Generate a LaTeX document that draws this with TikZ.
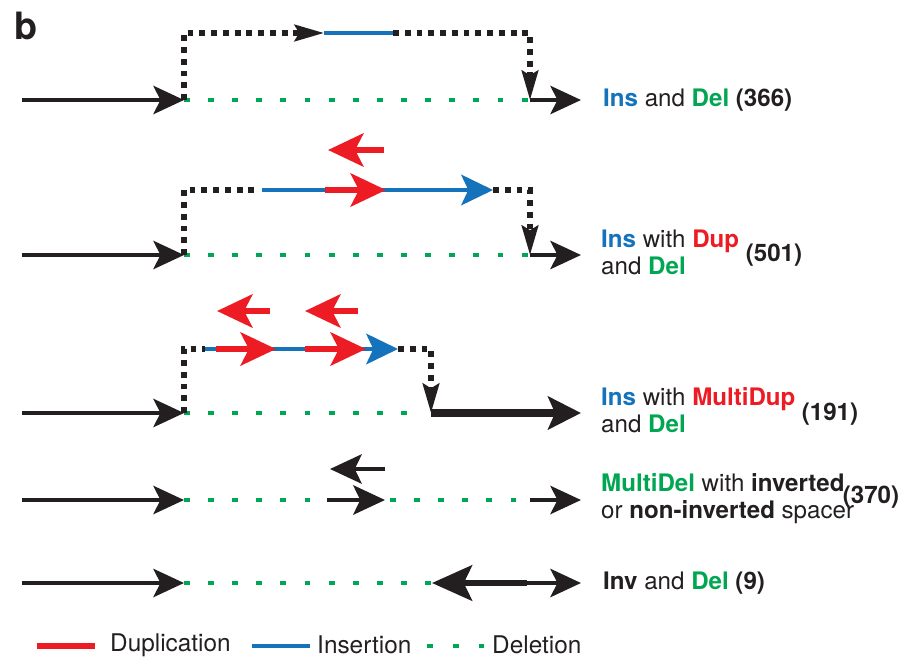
\documentclass[tikz,border=0pt]{standalone}
\usepackage{fontspec}
\setmainfont{TeX Gyre Heros}
\usetikzlibrary{arrows.meta}
\definecolor{dupred}{RGB}{237,28,36}
\definecolor{insblue}{RGB}{20,115,186}
\definecolor{delgreen}{RGB}{0,166,81}
\definecolor{ink}{RGB}{35,31,32}
\newcommand{\insW}{\textcolor{insblue}{\textbf{Ins}}}
\newcommand{\delW}{\textcolor{delgreen}{\textbf{Del}}}
\newcommand{\dupW}{\textcolor{dupred}{\textbf{Dup}}}

\begin{document}
\begin{tikzpicture}[
  x=0.85pt, y=-0.85pt,
  backbone/.style={draw=ink, line width=3.6pt, -{Stealth[length=26pt,width=24pt,inset=6pt]}},
  junction/.style={draw=ink, line width=4.4pt, dash pattern=on 5pt off 5pt},
  jtip/.style={-{Stealth[length=25pt,width=14pt,inset=4pt]}},
  gapline/.style={draw=delgreen, line width=3.6pt, dash pattern=on 5pt off 15.5pt},
  insseg/.style={draw=insblue, line width=3.2pt},
  instip/.style={-{Stealth[length=27pt,width=26pt,inset=6pt]}},
  dupseg/.style={draw=dupred, line width=5.5pt, -{Stealth[length=30pt,width=28pt,inset=7pt]}},
  spacer/.style={draw=ink, line width=3.4pt, -{Stealth[length=27pt,width=25pt,inset=6pt]}},
  label/.style={anchor=west, align=left, inner sep=0pt, text=ink, font=\fontsize{20.5}{23}\selectfont},
  count/.style={inner sep=0pt, text=ink, font=\fontsize{20.5}{23}\selectfont\bfseries}
]
\useasboundingbox (0,0) rectangle (901,659);
\node[text=ink, font=\fontsize{32}{34}\selectfont\bfseries] (panel) at (26,26) {b};

% incoming segments
\foreach \r/\y in {1/100,2/255,3/413,4/500,5/583}{
  \coordinate (a\r) at (22,\y);
  \coordinate (b\r) at (184,\y);
  \draw[backbone] (a\r) -- (b\r);
}

% row 1
\coordinate (c1) at (530,100); \coordinate (d1) at (581,100);
\coordinate (u1) at (184,33); \coordinate (s1) at (324,33);
\coordinate (e1) at (393,33); \coordinate (v1) at (530,33);
\draw[gapline] (b1) -- (c1);
\draw[junction, jtip] (b1) -- (u1) -- (s1);
\draw[insseg] (s1) -- (e1);
\draw[junction, jtip] (e1) -- (v1) -- (c1);
\draw[backbone] (c1) -- (d1);
\node[label] (l1) at (603,100) {\insW{} and \delW{} \textbf{(366)}};

% row 2
\coordinate (c2) at (530,255); \coordinate (d2) at (581,255);
\coordinate (u2) at (184,190); \coordinate (s2) at (262,190);
\coordinate (t2) at (493,190); \coordinate (v2) at (530,190);
\draw[gapline] (b2) -- (c2);
\draw[junction] (b2) -- (u2) -- (258,190);
\draw[insseg, instip] (s2) -- (t2);
\draw[dupseg] (325,190) -- (386,190);
\draw[dupseg] (384,150) -- (328,150);
\draw[junction, jtip] (t2) -- (v2) -- (c2);
\draw[backbone] (c2) -- (d2);
\node[label] (l2) at (601,252) {\insW{} with \dupW\\and \delW};
\node[count] (n2) at (774,255) {(501)};

% row 3
\coordinate (c3) at (431,413); \coordinate (d3) at (581,413);
\coordinate (u3) at (184,349); \coordinate (s3) at (205,349);
\coordinate (t3) at (398,349); \coordinate (v3) at (431,349);
\draw[gapline] (b3) -- (424,413);
\draw[junction] (b3) -- (u3) -- (s3);
\draw[insseg, instip] (s3) -- (t3);
\draw[dupseg] (216,349) -- (276,349);
\draw[dupseg] (305,349) -- (366,349);
\draw[dupseg] (270,311) -- (217,311);
\draw[dupseg] (358,311) -- (305,311);
\draw[junction, jtip] (t3) -- (v3) -- (c3);
\draw[draw=ink, line width=7pt, -{Stealth[length=28pt,width=28pt,inset=6pt]}] (c3) -- (d3);
\node[label] (l3) at (601,410) {\insW{} with \textcolor{dupred}{\textbf{MultiDup}}\\and \delW};
\node[count] (n3) at (830,414) {(191)};

% row 4
\coordinate (m4) at (327,500); \coordinate (k4) at (385,500);
\coordinate (c4) at (530,500); \coordinate (d4) at (581,500);
\draw[gapline] (b4) -- (m4);
\draw[spacer] (m4) -- (k4);
\draw[gapline] (390,500) -- (c4);
\draw[spacer, line width=3pt] (385,469) -- (330,469);
\draw[backbone] (c4) -- (d4);
\node[label] (l4) at (601,499) {\textcolor{delgreen}{\textbf{MultiDel}} with \textbf{inverted}\\or \textbf{non-inverted} spacer};
\node[count] (n4) at (871,497) {(370)};

% row 5
\coordinate (c5) at (432,583); \coordinate (k5) at (527,583); \coordinate (d5) at (581,583);
\draw[gapline] (b5) -- (c5);
\draw[draw=ink, line width=5.5pt, -{Stealth[length=34pt,width=30pt,inset=7pt]}] (k5) -- (c5);
\draw[backbone] (k5) -- (d5);
\node[label] (l5) at (603,583) {\textbf{Inv} and \delW{} \textbf{(9)}};

% legend
\draw[draw=dupred, line width=5.5pt] (37,646) -- (95,646);
\node[label, font=\fontsize{20.7}{23}\selectfont] (kd) at (110,645) {Duplication};
\draw[insseg, line width=3.6pt] (252,646) -- (310,646);
\node[label, font=\fontsize{20.7}{23}\selectfont] (ki) at (317,645) {Insertion};
\draw[gapline, dash pattern=on 5pt off 17pt] (427,646) -- (484,646);
\node[label, font=\fontsize{20.7}{23}\selectfont] (kx) at (492,645) {Deletion};
\end{tikzpicture}
\end{document}
